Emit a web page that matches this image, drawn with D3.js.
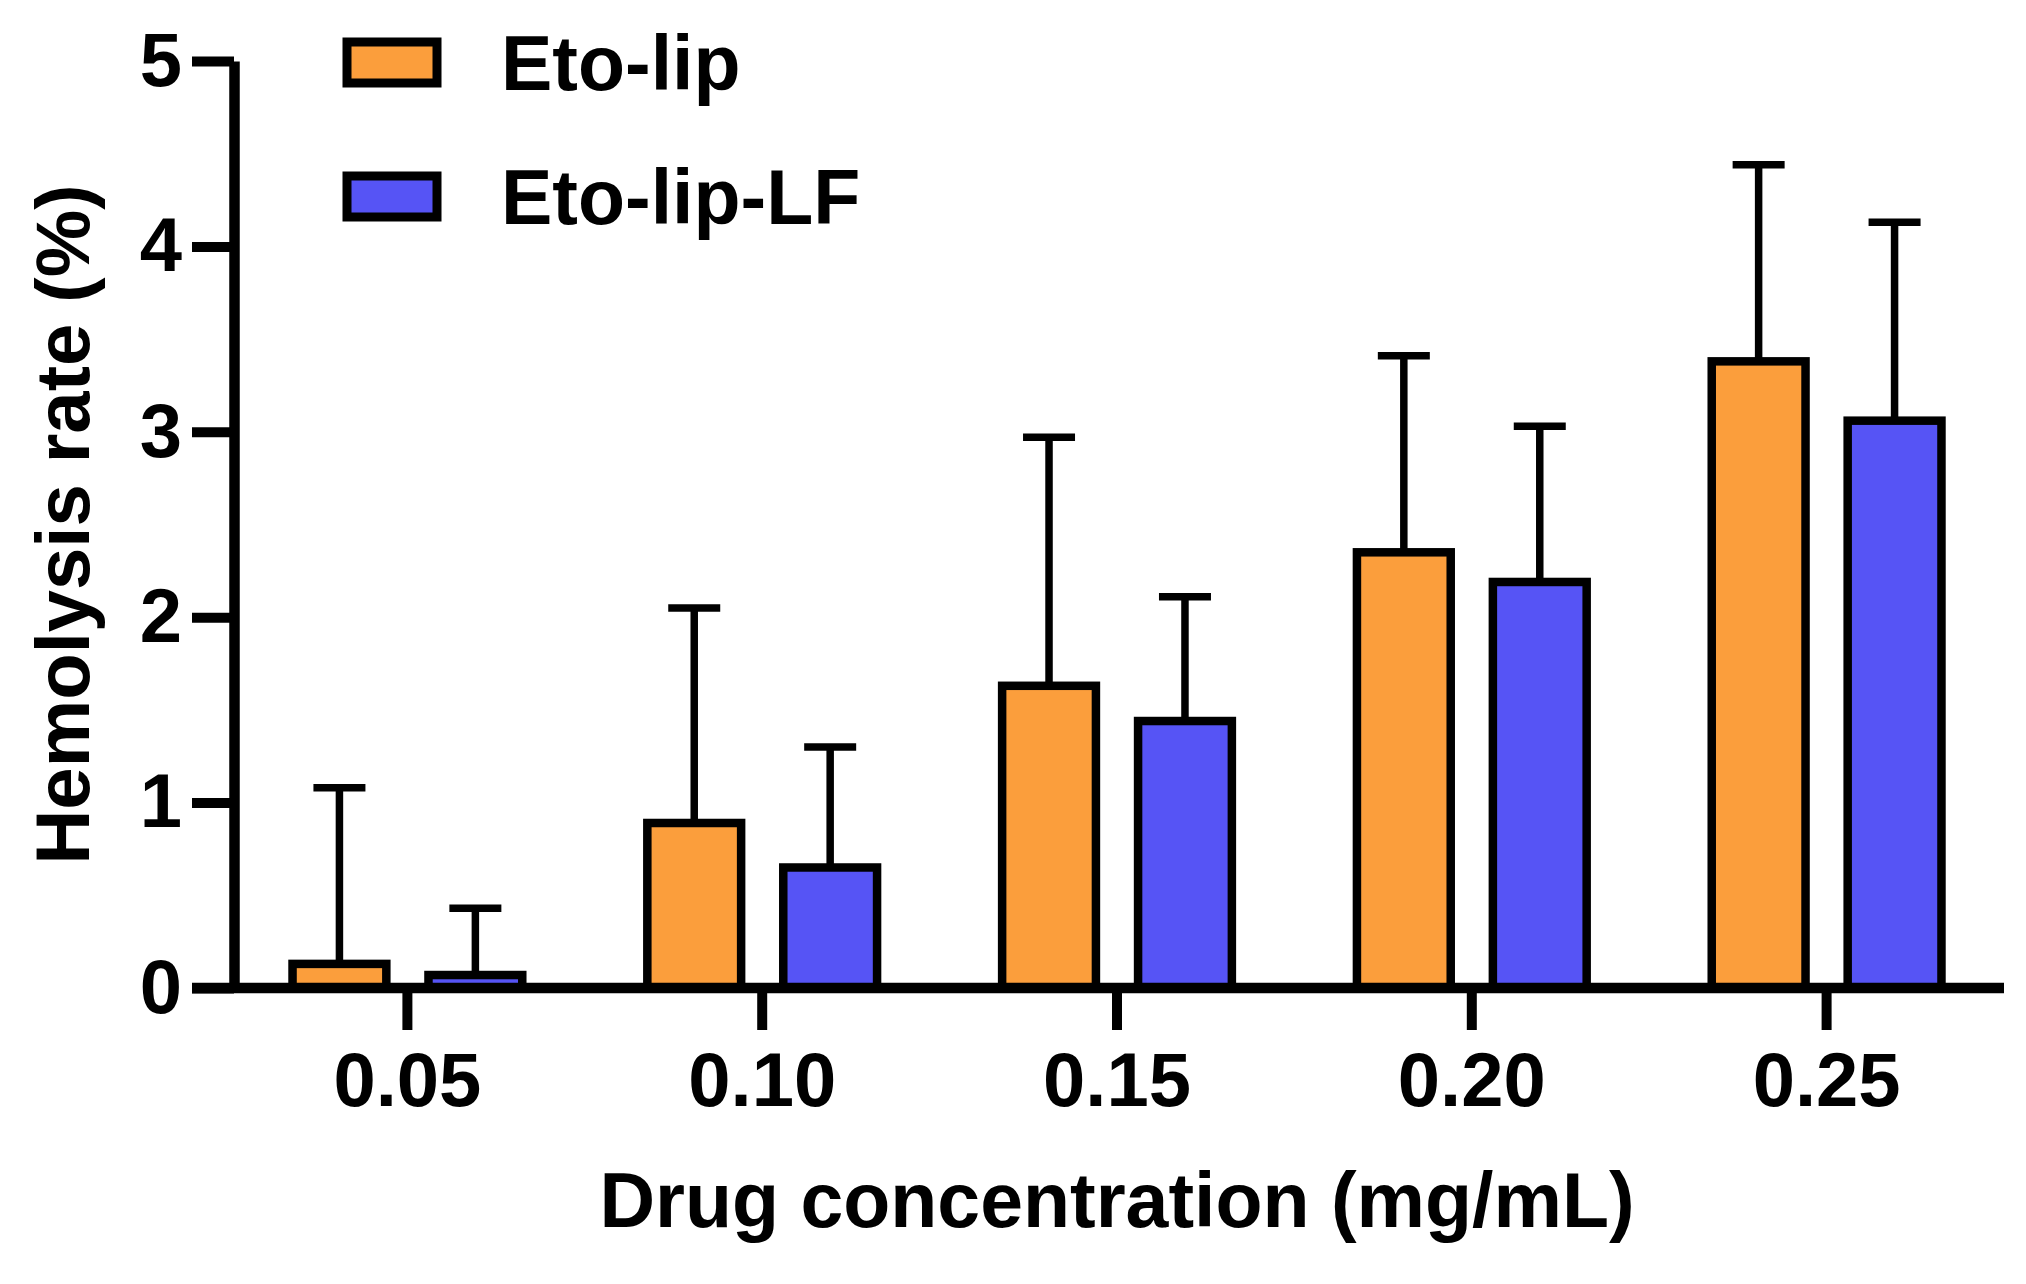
<!DOCTYPE html>
<html lang="en">
<head>
    <meta charset="UTF-8">
    <title>Hemolysis rate</title>
    <script src="https://d3js.org/d3.v7.min.js"></script>
    <style>
        body {
            margin: 0;
            background: #fff;
        }
        svg text {
            font-family: "Liberation Sans", Arial, sans-serif;
            font-weight: bold;
            fill: #000;
        }
    </style>
</head>
<body>
    <div id="chart"></div>

    <script>
        // Data
        const concentrations = ["0.05", "0.10", "0.15", "0.20", "0.25"];
        const seriesNames = ["Eto-lip", "Eto-lip-LF"];
        const seriesColors = ["#fb9e3c", "#5654f5"];
        const etoLipMean = [0.13, 0.89, 1.63, 2.35, 3.38];
        const etoLipSD = [0.95, 1.16, 1.34, 1.06, 1.06];
        const etoLipLfMean = [0.07, 0.65, 1.44, 2.19, 3.06];
        const etoLipLfSD = [0.36, 0.65, 0.67, 0.84, 1.07];
        const yTicks = [0, 1, 2, 3, 4, 5];

        const width = 2026, height = 1284;
        const axisX = 234, tickLen = 42;

        const svg = d3.select("#chart")
            .append("svg")
            .attr("width", width)
            .attr("height", height);

        const y = d3.scaleLinear()
            .domain([0, 5])
            .range([988, 61]);

        const x = d3.scaleBand()
            .domain(concentrations)
            .range([230, 2004])
            .padding(0);

        const xs = d3.scaleBand()
            .domain(seriesNames)
            .range([0, x.bandwidth()])
            .paddingInner(0.31)
            .paddingOuter(0.46);

        const rows = concentrations.map((c, i) => ({
            conc: c,
            values: [
                { name: seriesNames[0], mean: etoLipMean[i], sd: etoLipSD[i], color: seriesColors[0] },
                { name: seriesNames[1], mean: etoLipLfMean[i], sd: etoLipLfSD[i], color: seriesColors[1] }
            ]
        }));

        // groups
        const groups = svg.selectAll("g.group")
            .data(rows)
            .enter()
            .append("g")
            .attr("class", "group")
            .attr("transform", d => `translate(${x(d.conc)},0)`);

        // error bars (upper only)
        const err = groups.selectAll("g.err")
            .data(d => d.values)
            .enter()
            .append("g")
            .attr("class", "err")
            .attr("stroke", "#000")
            .attr("stroke-width", 7.5);

        err.append("line")
            .attr("x1", d => xs(d.name) + xs.bandwidth() / 2)
            .attr("x2", d => xs(d.name) + xs.bandwidth() / 2)
            .attr("y1", d => y(d.mean))
            .attr("y2", d => y(d.mean + d.sd));

        err.append("line")
            .attr("x1", d => xs(d.name) + xs.bandwidth() / 2 - 26)
            .attr("x2", d => xs(d.name) + xs.bandwidth() / 2 + 26)
            .attr("y1", d => y(d.mean + d.sd))
            .attr("y2", d => y(d.mean + d.sd));

        // bars
        groups.selectAll("rect")
            .data(d => d.values)
            .enter()
            .append("rect")
            .attr("x", d => xs(d.name))
            .attr("y", d => y(d.mean))
            .attr("width", xs.bandwidth())
            .attr("height", d => y(0) - y(d.mean))
            .attr("fill", d => d.color)
            .attr("stroke", "#000")
            .attr("stroke-width", 8.5);

        // y axis
        const yAxis = svg.append("g")
            .attr("transform", `translate(${axisX},0)`)
            .call(d3.axisLeft(y).tickValues(yTicks).tickFormat(d3.format("d"))
                .tickSize(tickLen).tickSizeOuter(0).tickPadding(10));
        yAxis.select(".domain").attr("stroke-width", 10.5);
        yAxis.selectAll(".tick line").attr("stroke-width", 10);
        yAxis.selectAll(".tick text").attr("font-size", 76);

        // x axis
        const xAxis = svg.append("g")
            .attr("transform", `translate(0,${y(0)})`)
            .call(d3.axisBottom(x).tickSize(tickLen).tickSizeOuter(0).tickPadding(22));
        xAxis.select(".domain").remove();
        xAxis.selectAll(".tick line").attr("stroke-width", 10);
        xAxis.selectAll(".tick text").attr("font-size", 76);
        xAxis.append("line")
            .attr("x1", axisX - tickLen)
            .attr("x2", x.range()[1])
            .attr("stroke", "#000")
            .attr("stroke-width", 10.5);

        // axis titles
        svg.append("text")
            .attr("x", (x.range()[0] + x.range()[1]) / 2)
            .attr("y", 1227)
            .attr("text-anchor", "middle")
            .attr("font-size", 77)
            .text("Drug concentration (mg/mL)");

        svg.append("text")
            .attr("transform", `translate(89,${(y(0) + y(5)) / 2}) rotate(-90)`)
            .attr("text-anchor", "middle")
            .attr("font-size", 76)
            .text("Hemolysis rate (%)");

        // legend
        const legend = svg.selectAll("g.legend")
            .data(seriesNames)
            .enter()
            .append("g")
            .attr("class", "legend")
            .attr("transform", (d, i) => `translate(347,${42 + i * 134})`);

        legend.append("rect")
            .attr("width", 90)
            .attr("height", 41)
            .attr("fill", (d, i) => seriesColors[i])
            .attr("stroke", "#000")
            .attr("stroke-width", 9);

        legend.append("text")
            .attr("x", 154)
            .attr("y", 48)
            .attr("font-size", 77)
            .text(d => d);
    </script>
</body>
</html>
